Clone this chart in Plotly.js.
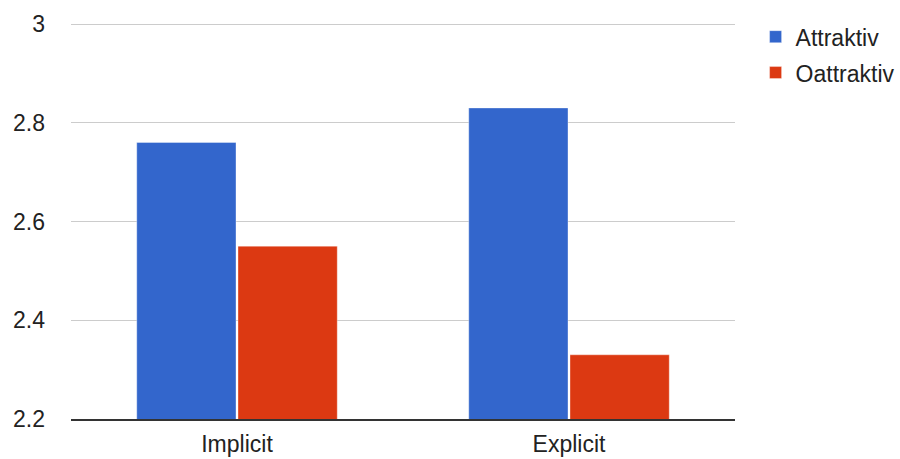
<!DOCTYPE html>
<html>
<head>
<meta charset="utf-8">
<script src="https://cdn.plot.ly/plotly-3.0.1.min.js"></script>
<style>html,body{margin:0;padding:0;background:#fff;}#chart{width:900px;height:459px;}</style>
</head>
<body>
<div id="chart"></div>
<script>
var categories = ["Implicit", "Explicit"];
var seriesNames = ["Attraktiv", "Oattraktiv"];
var attraktiv = [2.76, 2.83];
var oattraktiv = [2.55, 2.33];
var yTicks = [2.2, 2.4, 2.6, 2.8, 3];
var yTickLabels = ["2.2", "2.4", "2.6", "2.8", "3"];

var colors = ["#3366CC", "#DC3912"];
var font = {family: "Liberation Sans, Arial, sans-serif", size: 23, color: "#222"};

var data = [
  {type: "bar", name: seriesNames[0], legendgroup: "a", x: categories, y: attraktiv,
   marker: {color: colors[0], line: {color: "rgba(255,255,255,0.35)", width: 1}}},
  {type: "bar", name: seriesNames[1], legendgroup: "b", x: categories, y: oattraktiv,
   marker: {color: colors[1], line: {color: "rgba(255,255,255,0.35)", width: 1}}}
];

var layout = {
  width: 900, height: 459,
  margin: {l: 71, r: 165, t: 20, b: 40, pad: 0, autoexpand: false},
  paper_bgcolor: "#fff", plot_bgcolor: "#fff",
  font: font,
  barmode: "group", bargap: 0.39, bargroupgap: 0.02,
  showlegend: true,
  legend: {x: 1.031, xanchor: "left", y: 1.012, yanchor: "top", font: font,
           traceorder: "grouped", tracegroupgap: 3,
           bgcolor: "rgba(0,0,0,0)", itemclick: false},
  xaxis: {type: "category", showgrid: false, showline: true, linecolor: "#333", linewidth: 1.5,
          ticks: "", tickfont: font, ticklabelstandoff: 4, fixedrange: true, zeroline: false},
  yaxis: {range: [2.2, 3.0081], tickvals: yTicks, ticktext: yTickLabels, showgrid: true,
          gridcolor: "#cccccc", gridwidth: 1, zeroline: false, showline: false, ticks: "",
          tickfont: font, ticklabelstandoff: 25, fixedrange: true}
};

Plotly.newPlot("chart", data, layout, {displayModeBar: false, staticPlot: true});
</script>
</body>
</html>
